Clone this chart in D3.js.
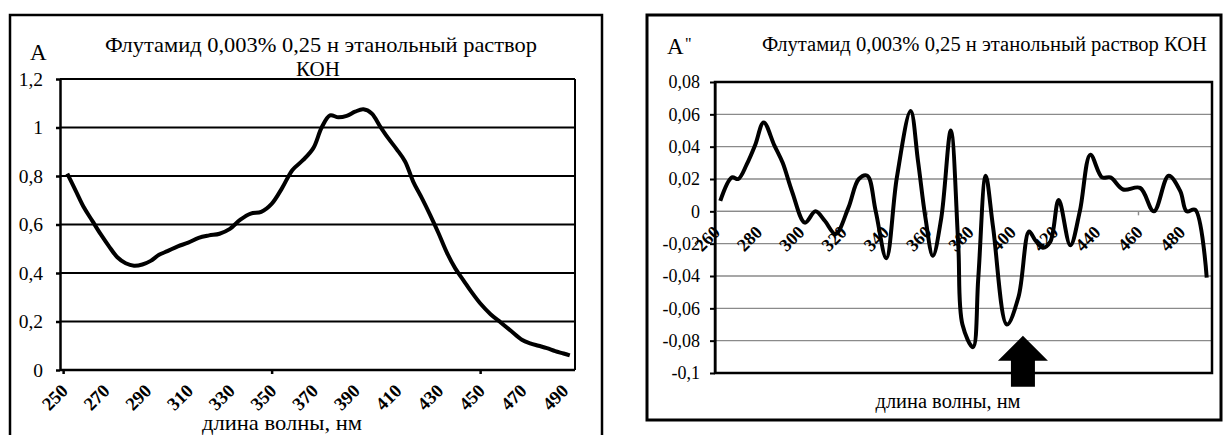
<!DOCTYPE html>
<html>
<head>
<meta charset="utf-8">
<script src="https://cdn.jsdelivr.net/npm/d3@7"></script>
<style>
  body { margin: 0; background: #fff; }
  svg text { font-family: "Liberation Serif", "Times New Roman", serif !important; fill: #000; }
</style>
</head>
<body>
<div id="vis"></div>
<script>
// ---- data ----
// left panel: absorbance spectrum
const leftWl = [252, 256, 260, 264, 268, 272, 276, 280, 284, 288, 292, 296, 300, 305, 310, 315, 320, 325, 330, 335,
                340, 345, 350, 355, 360, 365, 370, 374, 378, 382, 386, 390, 394, 398, 402, 406, 410, 414, 418, 422,
                426, 430, 434, 438, 442, 446, 450, 455, 460, 465, 470, 474, 478, 482, 486, 490, 493];
const leftA = [0.81, 0.74, 0.67, 0.615, 0.56, 0.51, 0.465, 0.44, 0.43, 0.435, 0.45, 0.475, 0.49, 0.51, 0.525, 0.545, 0.555, 0.562, 0.582, 0.62,
               0.645, 0.652, 0.685, 0.75, 0.825, 0.865, 0.915, 1.0, 1.05, 1.042, 1.048, 1.065, 1.075, 1.058, 1.005, 0.955, 0.91, 0.86, 0.775, 0.71,
               0.64, 0.565, 0.485, 0.42, 0.37, 0.32, 0.275, 0.23, 0.195, 0.16, 0.125, 0.11, 0.1, 0.09, 0.078, 0.068, 0.06];
const leftXTicks = [250, 270, 290, 310, 330, 350, 370, 390, 410, 430, 450, 470, 490];
const leftXMarks = [250, 350, 450];
const leftYTicks = [0, 0.2, 0.4, 0.6, 0.8, 1, 1.2];

// right panel: second derivative
const rightWl = [262.5, 268, 271, 275, 279, 283, 288, 292, 296.5, 302.5, 307.5, 312, 317, 323, 328, 332, 336, 341, 346, 352.5,
                 356, 359.5, 363, 367, 371.5, 375, 377, 382, 384.5, 388, 391.5, 398, 403.5, 408.5, 411.5, 415, 418.5, 422.5, 428, 432.5,
                 437.5, 443, 447, 453, 461, 467.5, 474.5, 480, 483, 487, 492.5];
const rightD2 = [0.0065, 0.021, 0.020, 0.029, 0.041, 0.055, 0.041, 0.030, 0.012, -0.007, 0.0, -0.006, -0.014, 0.002, 0.020, 0.022, 0.0, -0.029, 0.021, 0.062,
                 0.031, -0.004, -0.0275, -0.004, 0.050, -0.020, -0.070, -0.084, -0.041, 0.022, -0.010, -0.070, -0.053, -0.0125, -0.018, -0.0225, -0.019, 0.007, -0.021, 0.0,
                 0.035, 0.021, 0.021, 0.0135, 0.0145, 0.0, 0.022, 0.0125, 0.0, 0.001, -0.041];
const rightXTicks = [260, 280, 300, 320, 340, 360, 380, 400, 420, 440, 460, 480];
const rightXMarks = [260, 360, 460];
const rightYTicks = [-0.1, -0.08, -0.06, -0.04, -0.02, 0, 0.02, 0.04, 0.06, 0.08];
const arrowAt = { wl: 405.6, value: -0.077 };

const titleLeft1 = "Флутамид 0,003% 0,25 н этанольный раствор";
const titleLeft2 = "КОН";
const titleRight = "Флутамид 0,003% 0,25 н этанольный раствор КОН";
const xTitle = "длина волны, нм";

const ctx = {
    w: 1223,
    h: 435,
    lineW: 4
};

const ru = d3.formatLocale({ decimal: ",", thousands: " ", grouping: [3], currency: ["", ""], minus: "-" });
const fmt = ru.format("~g");

function rotatedLabels(g, ticks, xScale, y0, size) {
    g.selectAll("text.xlab")
        .data(ticks)
        .enter()
        .append("text")
        .attr("class", "xlab")
        .attr("transform", d => `translate(${xScale(d) + 6},${y0 + 22}) rotate(-45)`)
        .style("text-anchor", "end")
        .style("font-size", size)
        .style("font-weight", "bold")
        .text(d => d);
}

function drawLeft(svg) {
    let g = svg.append("g").attr("id", "left");
    g.append("rect")
        .attr("x", 10).attr("y", 15).attr("width", 592).attr("height", 440)
        .style("fill", "none").style("stroke", "#000").style("stroke-width", 2.5);

    let x = d3.scaleLinear().domain([248.5, 495.5]).range([60, 575]);
    let y = d3.scaleLinear().domain([0, 1.2]).range([370, 79]);

    // grid
    g.selectAll("line.grid")
        .data(leftYTicks.filter(t => t > 0))
        .enter().append("line")
        .attr("x1", 60).attr("x2", 575)
        .attr("y1", d => y(d)).attr("y2", d => y(d))
        .style("stroke", "#000").style("stroke-width", 2);
    g.append("line")
        .attr("x1", 575).attr("x2", 575).attr("y1", y(1.2)).attr("y2", y(0))
        .style("stroke", "#000").style("stroke-width", 2);

    // axes
    let ya = g.append("g")
        .attr("transform", "translate(60,0)")
        .call(d3.axisLeft(y).tickValues(leftYTicks).tickSize(4).tickSizeOuter(0).tickPadding(13).tickFormat(fmt));
    ya.selectAll("text").style("font-size", "19.5px");
    ya.selectAll("line, path").style("stroke", "#000").style("stroke-width", 2.5);

    let xa = g.append("g")
        .attr("transform", `translate(0,${y(0)})`)
        .call(d3.axisBottom(x).tickValues(leftXMarks).tickSize(4).tickSizeOuter(0).tickFormat(""));
    xa.select("path").attr("d", `M60,0H575`);
    xa.selectAll("line, path").style("stroke", "#000").style("stroke-width", 2.5);

    rotatedLabels(g, leftXTicks, x, y(0), "18.5px");

    // curve
    g.append("path")
        .datum(leftWl.map((w, i) => [w, leftA[i]]))
        .attr("d", d3.line().x(d => x(d[0])).y(d => y(d[1])).curve(d3.curveCatmullRom.alpha(0.5)))
        .style("fill", "none").style("stroke", "#000").style("stroke-width", ctx.lineW)
        .style("stroke-linejoin", "round");

    // texts
    g.append("text").attr("x", 30).attr("y", 60).style("font-size", "23px").text("A");
    g.append("text").attr("x", 321).attr("y", 52).style("text-anchor", "middle").style("font-size", "22px")
        .attr("textLength", 432).attr("lengthAdjust", "spacingAndGlyphs").text(titleLeft1);
    g.append("text").attr("x", 318).attr("y", 76).style("text-anchor", "middle").style("font-size", "21px").text(titleLeft2);
    g.append("text").attr("x", 282).attr("y", 430).style("text-anchor", "middle").style("font-size", "22px")
        .attr("textLength", 160).attr("lengthAdjust", "spacingAndGlyphs").text(xTitle);
}

function drawRight(svg) {
    let g = svg.append("g").attr("id", "right");
    g.append("rect")
        .attr("x", 647).attr("y", 15).attr("width", 574).attr("height", 405)
        .style("fill", "none").style("stroke", "#000").style("stroke-width", 3);

    let x = d3.scaleLinear().domain([260, 495]).range([715, 1212]);
    let y = d3.scaleLinear().domain([-0.1, 0.08]).range([373, 82]);

    g.selectAll("line.grid")
        .data(rightYTicks.slice(1, -1))
        .enter().append("line")
        .attr("x1", 715).attr("x2", 1212)
        .attr("y1", d => y(d)).attr("y2", d => y(d))
        .style("stroke", "#8a8a8a").style("stroke-width", 1.4);

    let ya = g.append("g")
        .attr("transform", "translate(715,0)")
        .call(d3.axisLeft(y).tickValues(rightYTicks).tickSize(5).tickSizeOuter(0).tickPadding(10).tickFormat(fmt));
    ya.selectAll("text").style("font-size", "18px");
    ya.selectAll("line, path").style("stroke", "#000").style("stroke-width", 2);

    let xa = g.append("g")
        .attr("transform", `translate(0,${y(0)})`)
        .call(d3.axisBottom(x).tickValues(rightXMarks).tickSize(4).tickSizeOuter(0).tickFormat(""));
    xa.select("path").attr("d", "M715,0H1212");
    xa.selectAll("line, path").style("stroke", "#8a8a8a").style("stroke-width", 1.4);

    g.append("rect")
        .attr("x", 715).attr("y", y(0.08)).attr("width", 1212 - 715).attr("height", y(-0.1) - y(0.08))
        .style("fill", "none").style("stroke", "#000").style("stroke-width", 2.5);

    rotatedLabels(g, rightXTicks, x, y(0), "18px");

    g.append("path")
        .datum(rightWl.map((w, i) => [w, rightD2[i]]))
        .attr("d", d3.line().x(d => x(d[0])).y(d => y(d[1])).curve(d3.curveCatmullRom.alpha(0.5)))
        .style("fill", "none").style("stroke", "#000").style("stroke-width", ctx.lineW)
        .style("stroke-linejoin", "round");

    // arrow pointing at the band
    let ax = x(arrowAt.wl), ay = y(arrowAt.value);
    g.append("path")
        .attr("d", `M${ax},${ay} L${ax + 25},${ay + 25} L${ax + 12},${ay + 25} L${ax + 12},${ay + 51}
                    L${ax - 12},${ay + 51} L${ax - 12},${ay + 25} L${ax - 25},${ay + 25} Z`)
        .style("fill", "#000");

    g.append("text").attr("x", 667).attr("y", 54).style("font-size", "23px").text("A");
    g.append("text").attr("x", 685).attr("y", 49).style("font-size", "16px").text("\"");
    g.append("text").attr("x", 984.5).attr("y", 51).style("text-anchor", "middle").style("font-size", "20.5px")
        .attr("textLength", 445).attr("lengthAdjust", "spacingAndGlyphs").text(titleRight);
    g.append("text").attr("x", 948).attr("y", 408).style("text-anchor", "middle").style("font-size", "20px")
        .attr("textLength", 145).attr("lengthAdjust", "spacingAndGlyphs").text(xTitle);
}

function createViz() {
    let svg = d3.select("#vis").append("svg")
        .attr("width", ctx.w).attr("height", ctx.h);
    drawLeft(svg);
    drawRight(svg);
}

createViz();
</script>
</body>
</html>
